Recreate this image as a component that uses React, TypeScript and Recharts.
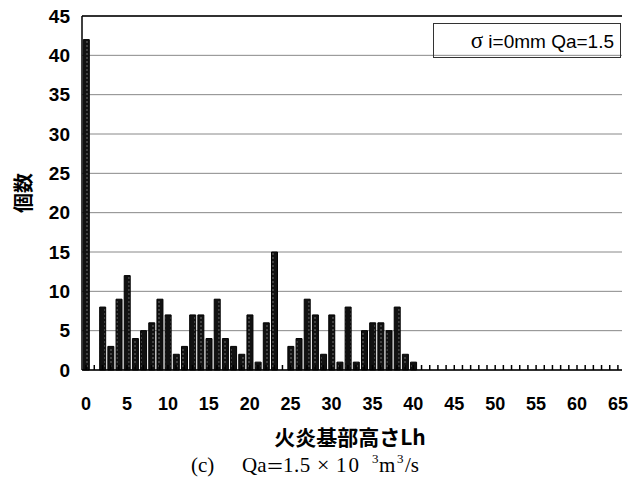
import React from "react";
import {
  BarChart,
  Bar,
  XAxis,
  YAxis,
  CartesianGrid,
  ReferenceLine,
} from "recharts";

// 火炎基部高さ Lh (0..65) ごとの個数
const counts = [
  42, 0, 8, 3, 9, 12, 4, 5, 6, 9, 7, 2, 3, 7, 7, 4, 9, 4, 3, 2, 7, 1, 6, 15, 0,
  3, 4, 9, 7, 2, 7, 1, 8, 1, 5, 6, 6, 5, 8, 2, 1, 0, 0, 0, 0, 0, 0, 0, 0, 0, 0,
  0, 0, 0, 0, 0, 0, 0, 0, 0, 0, 0, 0, 0, 0, 0,
];
const yTicks = [0, 5, 10, 15, 20, 25, 30, 35, 40, 45];
const yLabel = "個数";
const xLabel = "火炎基部高さLh";

const data = counts.map((c, i) => ({ lh: i, count: c }));

const XTick = (props: any) => {
  const { x, y, payload } = props;
  const v = payload.value;
  return (
    <g>
      <line x1={x} x2={x} y1={y} y2={y - 5} stroke="#000" strokeWidth={1.5} />
      {v % 5 === 0 && (
        <text
          x={x}
          y={y + 27}
          dy="0.71em"
          textAnchor="middle"
          fontSize={18}
          fontWeight="bold"
          fill="#000"
          fontFamily="Liberation Sans, Arial, sans-serif"
        >
          {v}
        </text>
      )}
    </g>
  );
};

const cap: React.CSSProperties = {
  position: "absolute",
  top: 0,
  whiteSpace: "pre",
};

const App = () => {
  return (
    <div
      style={{
        position: "absolute",
        left: 0,
        top: 0,
        width: 643,
        height: 479,
        background: "#fff",
        fontFamily: "Liberation Sans, Arial, sans-serif",
      }}
    >
      <BarChart
        width={643}
        height={479}
        data={data}
        margin={{ top: 16, right: 21, left: 0, bottom: 69 }}
        barCategoryGap="16%"
      >
        <defs>
          <pattern id="dots" patternUnits="userSpaceOnUse" width="6" height="4">
            <rect width="6" height="4" fill="#111" />
            <rect x="2.5" y="1.5" width="1" height="1" fill="#ccc" />
          </pattern>
        </defs>
        <CartesianGrid vertical={false} stroke="#888" />
        <XAxis
          dataKey="lh"
          interval={0}
          height={40}
          tickLine={false}
          tickSize={0}
          tickMargin={0}
          tick={<XTick />}
          axisLine={{ stroke: "#000", strokeWidth: 1.5 }}
        />
        <YAxis
          domain={[0, 45]}
          ticks={yTicks}
          width={82}
          tickLine={false}
          tickSize={0}
          tickMargin={12}
          axisLine={{ stroke: "#000", strokeWidth: 1.5 }}
          tick={{
            fontSize: 19,
            fontWeight: "bold",
            fill: "#000",
            fontFamily: "Liberation Sans, Arial, sans-serif",
          }}
        />
        <YAxis
          yAxisId="r"
          orientation="right"
          domain={[0, 45]}
          width={0}
          tick={false}
          tickLine={false}
          axisLine={{ stroke: "#000", strokeWidth: 1.5 }}
        />
        <ReferenceLine y={45} stroke="#000" strokeWidth={1.5} />
        <Bar
          dataKey="count"
          fill="url(#dots)"
          stroke="#000"
          strokeWidth={1}
          isAnimationActive={false}
        />
      </BarChart>

      <div
        style={{
          position: "absolute",
          left: 433,
          top: 23,
          width: 188,
          height: 35,
          border: "1px solid #333",
          boxSizing: "border-box",
          fontSize: 19,
          lineHeight: "33px",
          textAlign: "right",
          paddingRight: 6,
          color: "#000",
          whiteSpace: "pre",
        }}
      >
        <span style={{ fontFamily: "Liberation Serif, serif", fontSize: 23 }}>σ</span>
        {" i=0mm Qa=1.5"}
      </div>

      <div
        style={{
          position: "absolute",
          left: -27,
          top: 180,
          width: 100,
          height: 26,
          transform: "rotate(-90deg)",
          fontSize: 20,
          fontWeight: "bold",
          lineHeight: "26px",
          fontFamily: "Noto Sans CJK JP, sans-serif",
          textAlign: "center",
          color: "#000",
        }}
      >
        {yLabel}
      </div>

      <div
        style={{
          position: "absolute",
          left: 200,
          width: 300,
          top: 423,
          fontSize: 21,
          fontWeight: "bold",
          fontFamily: "Noto Sans CJK JP, sans-serif",
          textAlign: "center",
          color: "#000",
          lineHeight: "26px",
        }}
      >
        {xLabel}
      </div>

      <div
        style={{
          position: "absolute",
          left: 0,
          top: 452,
          width: 643,
          height: 26,
          fontSize: 21,
          lineHeight: "26px",
          fontFamily: "Liberation Serif, serif",
          color: "#000",
        }}
      >
        <span style={{ ...cap, left: 191 }}>(c)</span>
        <span style={{ ...cap, left: 242 }}>Qa</span>
        <span style={{ ...cap, left: 266, fontFamily: "Noto Sans CJK JP, serif", fontSize: 18 }}>＝</span>
        <span style={{ ...cap, left: 283, letterSpacing: 0.5 }}>1.5</span>
        <span style={{ ...cap, left: 317, fontSize: 22 }}>×</span>
        <span style={{ ...cap, left: 336, letterSpacing: 2 }}>10</span>
        <span style={{ ...cap, left: 372, top: -6, fontSize: 13 }}>3</span>
        <span style={{ ...cap, left: 379 }}>m</span>
        <span style={{ ...cap, left: 397, top: -6, fontSize: 13 }}>3</span>
        <span style={{ ...cap, left: 405 }}>/s</span>
      </div>
    </div>
  );
};

export default App;
